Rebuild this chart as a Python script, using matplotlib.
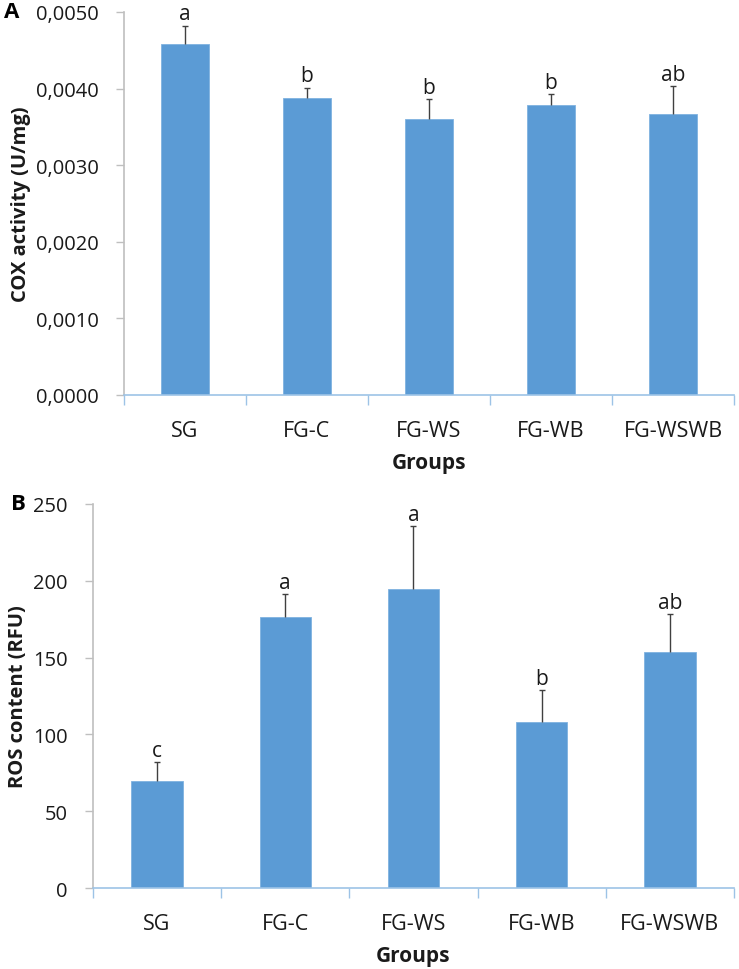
"""COX activity 与 ROS content 两个分组柱状图（A、B 两个面板）。"""

import matplotlib

matplotlib.use("Agg")
import matplotlib.pyplot as plt
from matplotlib.ticker import FixedLocator, FuncFormatter

plt.rcParams["font.family"] = ["Open Sans", "DejaVu Sans"]

# ----------------------------------------------------------------------
# 数据：估计值
# ----------------------------------------------------------------------
groups = ["SG", "FG-C", "FG-WS", "FG-WB", "FG-WSWB"]

cox_mean = [0.00458, 0.00388, 0.00360, 0.00379, 0.00367]
cox_err = [0.00024, 0.00013, 0.00026, 0.00014, 0.00036]
cox_letters = ["a", "b", "b", "b", "ab"]
cox_ticks = [0.0, 0.001, 0.002, 0.003, 0.004, 0.005]

ros_mean = [69.5, 176.4, 194.7, 108.2, 153.6]
ros_err = [12.5, 15.0, 41.0, 20.5, 24.8]
ros_letters = ["c", "a", "a", "b", "ab"]
ros_ticks = [0, 50, 100, 150, 200, 250]

BAR_COLOR = "#5B9BD5"
XAXIS_COLOR = "#9DC3E6"
YAXIS_COLOR = "#BFBFBF"
ERR_COLOR = "#404040"
TEXT_COLOR = "#1A1A1A"


def draw_panel(ax, means, errs, letters, yticks, ylabel, fmt):
    """画一个面板：柱子 + 上侧误差线 + 显著性字母。"""
    x = list(range(len(groups)))
    tops = [m + e for m, e in zip(means, errs)]

    ax.bar(x, means, width=0.4, color=BAR_COLOR, edgecolor="#7FB2E0",
           linewidth=0.6, zorder=2)

    # 只画上侧误差线（Excel 风格）：竖线 + 顶端小横帽
    ax.vlines(x, means, tops, colors=ERR_COLOR, linewidth=1.0, zorder=3)
    ax.plot(x, tops, linestyle="none", marker="_", markersize=5,
            markeredgewidth=1.0, color=ERR_COLOR, zorder=3)

    for xi, t, lab in zip(x, tops, letters):
        ax.annotate(lab, (xi, t), xytext=(0, 1), textcoords="offset points",
                    ha="center", va="bottom", fontsize=15, color=TEXT_COLOR)

    ax.set_xlim(-0.5, len(groups) - 0.5)
    ax.set_ylim(yticks[0], yticks[-1])

    # y 轴
    ax.yaxis.set_major_locator(FixedLocator(yticks))
    ax.yaxis.set_major_formatter(FuncFormatter(fmt))
    ax.tick_params(axis="y", direction="out", length=6, width=1,
                   color=YAXIS_COLOR, labelsize=14.5, labelcolor=TEXT_COLOR,
                   pad=12)

    # x 轴：分组名在中间，刻度线在分隔处
    ax.set_xticks(x)
    ax.set_xticklabels(groups)
    ax.set_xticks([i - 0.5 for i in range(len(groups) + 1)], minor=True)
    ax.tick_params(axis="x", which="major", length=0, pad=18,
                   labelsize=15.5, labelcolor=TEXT_COLOR)
    ax.tick_params(axis="x", which="minor", direction="out", length=7,
                   width=1, color=XAXIS_COLOR)

    for side in ("top", "right"):
        ax.spines[side].set_visible(False)
    ax.spines["left"].set_color(YAXIS_COLOR)
    ax.spines["left"].set_linewidth(1.2)
    ax.spines["bottom"].set_color(XAXIS_COLOR)
    ax.spines["bottom"].set_linewidth(1.2)
    ax.spines["bottom"].set_zorder(4)

    ax.set_ylabel(ylabel, fontsize=14.5, fontweight="bold", color=TEXT_COLOR,
                  labelpad=4)
    ax.set_xlabel("Groups", fontsize=15, fontweight="bold", color=TEXT_COLOR,
                  labelpad=8)


fig = plt.figure(figsize=(7.39, 9.70), dpi=100)

ax_a = fig.add_axes([0.1678, 0.5918, 0.8254, 0.3948])
draw_panel(ax_a, cox_mean, cox_err, cox_letters, cox_ticks,
           "COX activity (U/mg)",
           lambda v, pos: f"{v:.4f}".replace(".", ","))

ax_b = fig.add_axes([0.1258, 0.0835, 0.8674, 0.3959])
draw_panel(ax_b, ros_mean, ros_err, ros_letters, ros_ticks,
           "ROS content (RFU)",
           lambda v, pos: f"{v:.0f}")

fig.text(0.005, 0.9866, "A", fontsize=16, fontweight="bold", va="center",
         ha="left", color="black")
fig.text(0.015, 0.4794, "B", fontsize=16, fontweight="bold", va="center",
         ha="left", color="black")

fig.savefig("out.png", dpi=100)
